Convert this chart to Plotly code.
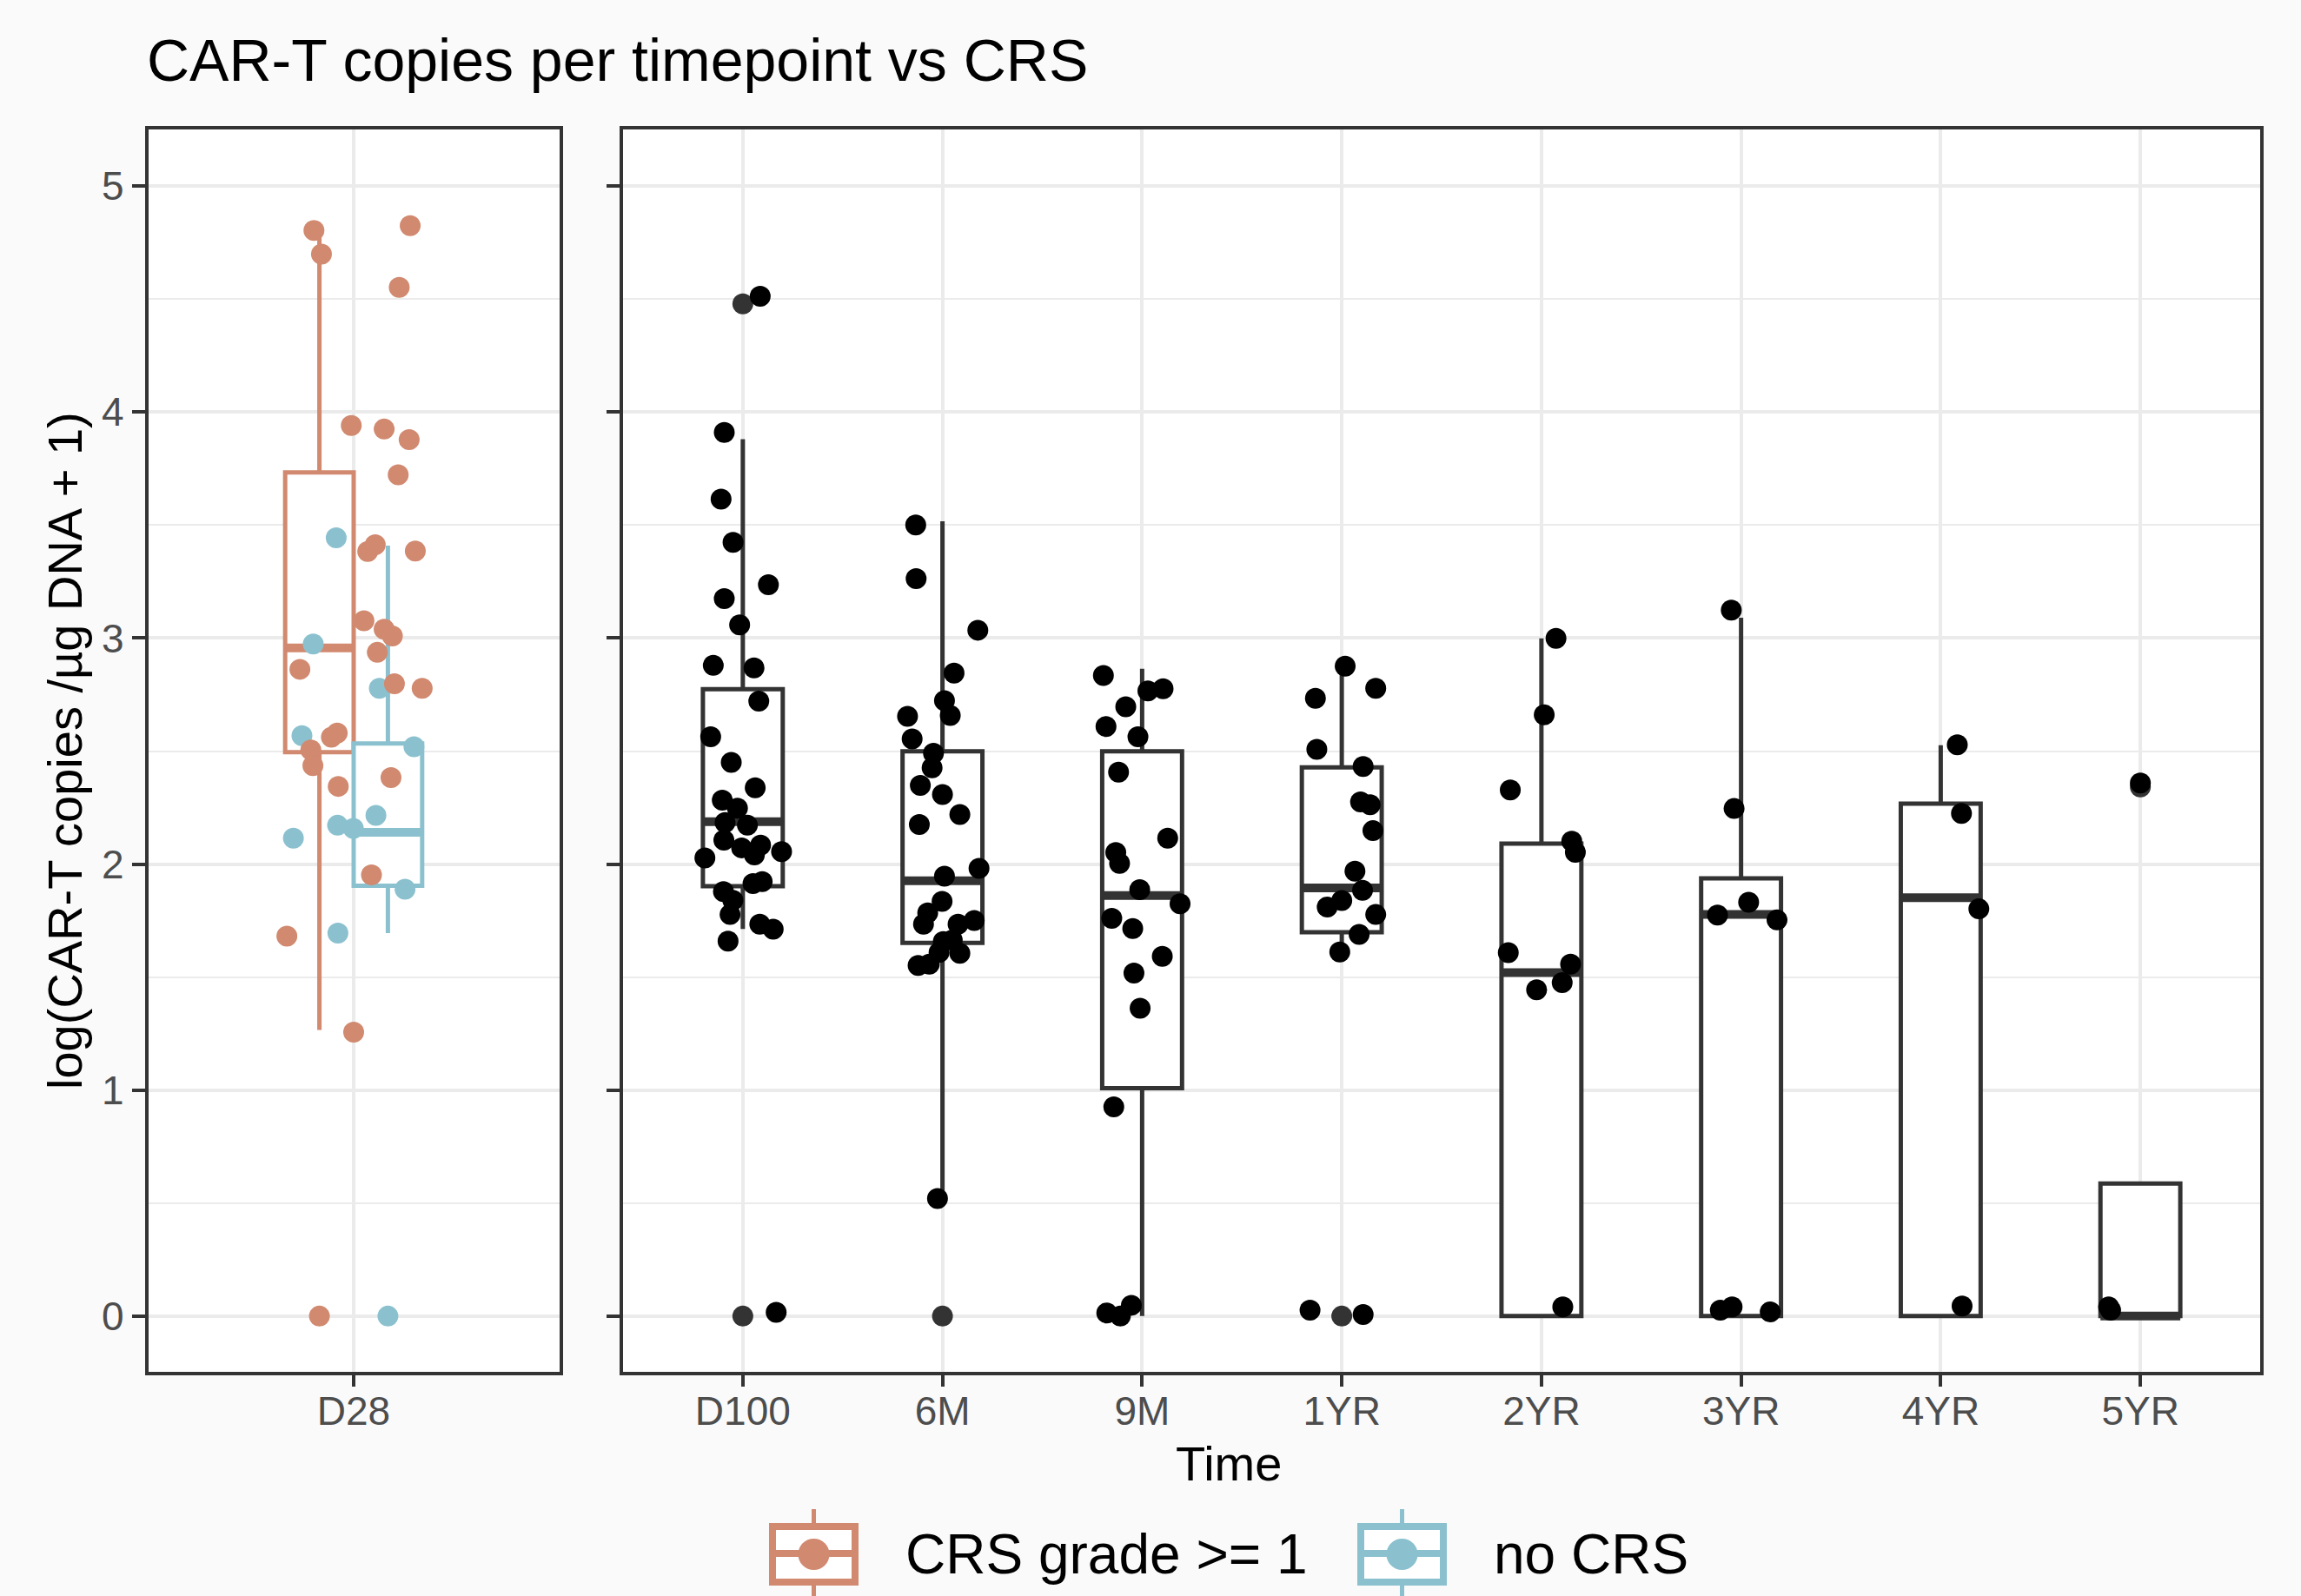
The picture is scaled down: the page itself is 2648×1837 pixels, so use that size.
import numpy as np
import plotly.graph_objects as go

W, H = 2648, 1837

# ---------------- data ----------------
d28_label = ["D28"]
time_labels = ["D100", "6M", "9M", "1YR", "2YR", "3YR", "4YR", "5YR"]
group_names = ["CRS grade >= 1", "no CRS"]

# D28 jittered points (value, horizontal jitter)
crs_y = [4.804, 4.699, 4.825, 4.552, 3.941, 3.925, 3.878, 3.723, 3.383, 3.413, 3.385,
         3.077, 3.039, 3.010, 2.937, 2.862, 2.798, 2.778, 2.580, 2.562, 2.505, 2.436,
         2.344, 2.383, 1.952, 1.681, 1.257]
crs_dx = [-0.116, -0.094, 0.165, 0.133, -0.007, 0.089, 0.162, 0.130, 0.041, 0.063, 0.180,
          0.030, 0.089, 0.113, 0.069, -0.157, 0.119, 0.200, -0.048, -0.065, -0.125, -0.119,
          -0.045, 0.109, 0.052, -0.195, 0.000]
nocrs_y = [3.444, 2.974, 2.568, 2.778, 2.519, 2.216, 2.172, 2.158, 2.115, 1.889, 1.695]
nocrs_dx = [-0.051, -0.118, -0.151, 0.075, 0.176, 0.065, -0.047, -0.001, -0.176, 0.150, -0.046]

# D28 box statistics [CRS, noCRS]
d28_q1 = [2.495, 1.904]
d28_med = [2.957, 2.141]
d28_q3 = [3.733, 2.534]
d28_lo = [1.266, 1.695]
d28_hi = [4.780, 3.409]
d28_out = [0.0, 0.0]

# Later timepoints box statistics
box_q1 = [1.902, 1.652, 1.009, 1.699, 0.000, 0.000, 0.000, 0.000]
box_med = [2.188, 1.926, 1.861, 1.895, 1.520, 1.777, 1.851, 0.000]
box_q3 = [2.774, 2.499, 2.499, 2.428, 2.091, 1.937, 2.268, 0.587]
box_lo = [1.713, 0.520, 0.000, 1.611, 0.000, 0.000, 0.000, 0.000]
box_hi = [3.880, 3.517, 2.864, 2.876, 2.999, 3.090, 2.526, 0.587]

# boxplot outliers (timepoint index, value)
out_t = [0, 0, 1, 3, 7]
out_y = [4.479, 0.000, 0.000, 0.000, 2.342]

# jittered points per timepoint
d100_y = [4.513, 3.910, 3.615, 3.424, 3.236, 3.175, 3.059, 2.880, 2.868, 2.721, 2.564,
          2.450, 2.338, 2.283, 2.247, 2.184, 2.172, 2.106, 2.072, 2.084, 2.027, 2.041,
          2.055, 1.914, 1.923, 1.878, 1.840, 1.777, 1.734, 1.712, 1.659, 0.017]
d100_dx = [0.087, -0.093, -0.109, -0.049, 0.128, -0.093, -0.016, -0.148, 0.056, 0.080, -0.161,
           -0.058, 0.062, -0.103, -0.027, -0.089, 0.023, -0.095, -0.006, 0.089, -0.190, 0.058,
           0.194, 0.051, 0.097, -0.097, -0.050, -0.064, 0.085, 0.152, -0.074, 0.167]
m6_y = [3.501, 3.263, 3.035, 2.845, 2.723, 2.658, 2.654, 2.554, 2.491, 2.426, 2.348, 2.308,
        2.220, 2.175, 1.981, 1.947, 1.835, 1.784, 1.734, 1.734, 1.751, 1.657, 1.664, 1.609,
        1.605, 1.552, 1.557, 0.520]
m6_dx = [-0.134, -0.132, 0.177, 0.058, 0.010, 0.039, -0.175, -0.152, -0.045, -0.052, -0.111, 0.000,
         0.087, -0.116, 0.183, 0.010, -0.002, -0.074, -0.095, 0.078, 0.159, 0.004, 0.049, -0.017,
         0.087, -0.122, -0.066, -0.025]
m9_y = [2.835, 2.776, 2.766, 2.696, 2.609, 2.564, 2.407, 2.115, 2.051, 2.003, 1.887, 1.825,
        1.760, 1.715, 1.592, 1.518, 1.362, 0.926, 0.014, 0.000, 0.048]
m9_dx = [-0.194, 0.105, 0.029, -0.082, -0.181, -0.021, -0.118, 0.128, -0.132, -0.113, -0.012, 0.190,
         -0.152, -0.047, 0.101, -0.041, -0.010, -0.142, -0.177, -0.109, -0.054]
y1_y = [2.876, 2.734, 2.778, 2.508, 2.432, 2.275, 2.263, 2.148, 1.969, 1.884, 1.839, 1.810,
        1.777, 1.689, 1.611, 0.026, 0.007]
y1_dx = [0.017, -0.132, 0.170, -0.125, 0.107, 0.094, 0.142, 0.156, 0.066, 0.104, 0.000, -0.073,
         0.170, 0.087, -0.010, -0.159, 0.107]
y2_y = [2.999, 2.661, 2.328, 2.101, 2.052, 1.608, 1.557, 1.476, 1.444, 0.041]
y2_dx = [0.073, 0.014, -0.156, 0.152, 0.170, -0.166, 0.146, 0.104, -0.024, 0.107]
y3_y = [3.124, 2.246, 1.831, 1.775, 1.753, 0.026, 0.041, 0.019]
y3_dx = [-0.049, -0.035, 0.038, -0.118, 0.180, -0.104, -0.045, 0.146]
y4_y = [2.528, 2.224, 1.802, 0.045]
y4_dx = [0.083, 0.104, 0.191, 0.107]
y5_y = [2.359, 0.041, 0.026]
y5_dx = [0.000, -0.159, -0.149]

later_y = [d100_y, m6_y, m9_y, y1_y, y2_y, y3_y, y4_y, y5_y]
later_dx = [d100_dx, m6_dx, m9_dx, y1_dx, y2_dx, y3_dx, y4_dx, y5_dx]

# ---------------- style ----------------
C_CRS = "#D1896F"
C_NO = "#8BC1CF"
DARK = "#333333"
GRID = "#EBEBEB"
FONT = "Liberation Sans, Arial, sans-serif"
MS = 24
BOXW_L = 0.2
BOXW_R = 0.4
LW = 5
MEDW = 10

fig = go.Figure()

# D28 boxes (dodged)
d28_pos = [-0.1, 0.1]
for i, col in enumerate([C_CRS, C_NO]):
    fig.add_trace(go.Box(
        x=[d28_pos[i]], q1=[d28_q1[i]], median=[d28_med[i]], q3=[d28_q3[i]],
        lowerfence=[d28_lo[i]], upperfence=[d28_hi[i]], orientation="v",
        width=BOXW_L, whiskerwidth=0, fillcolor="white", line=dict(color=col, width=LW),
        boxpoints=False, showlegend=False, hoverinfo="skip", xaxis="x", yaxis="y"))

# later boxes
pos_r = list(range(len(time_labels)))
fig.add_trace(go.Box(
    x=pos_r, q1=box_q1, median=box_med, q3=box_q3, lowerfence=box_lo, upperfence=box_hi,
    orientation="v", width=BOXW_R, whiskerwidth=0, fillcolor="white",
    line=dict(color=DARK, width=LW), boxpoints=False, showlegend=False, hoverinfo="skip",
    xaxis="x2", yaxis="y2"))

# thick median lines
for i, col in enumerate([C_CRS, C_NO]):
    fig.add_trace(go.Scatter(
        x=[d28_pos[i] - BOXW_L / 2, d28_pos[i] + BOXW_L / 2], y=[d28_med[i], d28_med[i]],
        mode="lines", line=dict(color=col, width=MEDW), showlegend=False, hoverinfo="skip",
        xaxis="x", yaxis="y"))
mx, my = [], []
for p, m in zip(pos_r, box_med):
    mx += [p - BOXW_R / 2, p + BOXW_R / 2, None]
    my += [m, m, None]
fig.add_trace(go.Scatter(x=mx, y=my, mode="lines", line=dict(color=DARK, width=MEDW),
                         showlegend=False, hoverinfo="skip", xaxis="x2", yaxis="y2"))

# outliers
for i, col in enumerate([C_CRS, C_NO]):
    fig.add_trace(go.Scatter(x=[d28_pos[i]], y=[d28_out[i]], mode="markers",
                             marker=dict(color=col, size=MS, line=dict(width=0)),
                             showlegend=False, xaxis="x", yaxis="y"))
fig.add_trace(go.Scatter(x=out_t, y=out_y, mode="markers",
                         marker=dict(color=DARK, size=MS, line=dict(width=0)),
                         showlegend=False, xaxis="x2", yaxis="y2"))

# jittered points D28
fig.add_trace(go.Scatter(x=np.array(nocrs_dx), y=nocrs_y, mode="markers", name=group_names[1],
                         marker=dict(color=C_NO, size=MS, line=dict(width=0)),
                         showlegend=False, xaxis="x", yaxis="y"))
fig.add_trace(go.Scatter(x=np.array(crs_dx), y=crs_y, mode="markers", name=group_names[0],
                         marker=dict(color=C_CRS, size=MS, line=dict(width=0)),
                         showlegend=False, xaxis="x", yaxis="y"))

# jittered points later
jx, jy = [], []
for p, ys, dxs in zip(pos_r, later_y, later_dx):
    jx += list(p + np.array(dxs))
    jy += ys
fig.add_trace(go.Scatter(x=jx, y=jy, mode="markers",
                         marker=dict(color="black", size=MS, line=dict(width=0)),
                         showlegend=False, xaxis="x2", yaxis="y2"))

# ---------------- axes ----------------
common_x = dict(showgrid=True, gridcolor=GRID, gridwidth=3.5, zeroline=False,
                showline=True, linecolor=DARK, linewidth=3.5, mirror=True,
                ticks="outside", ticklen=14, tickwidth=3.5, tickcolor=DARK,
                ticklabelstandoff=-12,
                tickfont=dict(family=FONT, size=46, color="#4D4D4D"))
common_y = dict(range=[-0.245, 5.25], tickvals=[0, 1, 2, 3, 4, 5], showgrid=True,
                gridcolor=GRID, gridwidth=3.5, zeroline=False, showline=True,
                linecolor=DARK, linewidth=3.5, mirror=True, ticks="outside", ticklen=15,
                tickwidth=3.5, tickcolor=DARK,
                tickfont=dict(family=FONT, size=46, color="#4D4D4D"),
                minor=dict(tick0=0.5, dtick=1, showgrid=True, gridcolor=GRID, gridwidth=2,
                           ticks=""),
                domain=[1 - 1578.6 / H, 1 - 149.2 / H])

fig.update_layout(
    xaxis=dict(common_x, domain=[170.5 / W, 643.5 / W], range=[-0.6, 0.6], tickvals=[0],
               ticktext=d28_label, anchor="y"),
    xaxis2=dict(common_x, domain=[717 / W, 2601 / W], range=[-0.6, 7.6],
                tickvals=pos_r, ticktext=time_labels, anchor="y2"),
    yaxis=dict(common_y, anchor="x", ticklabelstandoff=0),
    yaxis2=dict(common_y, anchor="x2", showticklabels=False),
    width=W, height=H, autosize=False,
    margin=dict(l=0, r=0, t=0, b=0, pad=0),
    paper_bgcolor="#FAFAFA", plot_bgcolor="white",
    showlegend=False,
    font=dict(family=FONT, color="black"),
)

# ---------------- text ----------------
def px(x):
    return x / W


def py(y):
    return 1 - y / H


fig.add_annotation(text="CAR-T copies per timepoint vs CRS", x=px(167), y=py(69),
                   xref="paper", yref="paper", xanchor="left", yanchor="middle",
                   showarrow=False, font=dict(family=FONT, size=68, color="black"))
fig.add_annotation(text="log(CAR-T copies /µg DNA + 1)", x=px(74), y=py(864),
                   xref="paper", yref="paper", xanchor="center", yanchor="middle",
                   textangle=-90, showarrow=False,
                   font=dict(family=FONT, size=56, color="black"))
fig.add_annotation(text="Time", x=px(1414), y=py(1684), xref="paper", yref="paper",
                   xanchor="center", yanchor="middle", showarrow=False,
                   font=dict(family=FONT, size=56, color="black"))

# ---------------- legend (manual keys) ----------------
key_left = [885, 1562]
text_left = [1040, 1717]
for kl, tl, col, name in zip(key_left, text_left, [C_CRS, C_NO], group_names):
    cx = kl + 51.5
    # whiskers
    fig.add_shape(type="line", x0=px(cx), x1=px(cx), y0=py(1737), y1=py(1757),
                  xref="paper", yref="paper", line=dict(color=col, width=5))
    fig.add_shape(type="line", x0=px(cx), x1=px(cx), y0=py(1821), y1=py(1840),
                  xref="paper", yref="paper", line=dict(color=col, width=5))
    # box
    fig.add_shape(type="rect", x0=px(kl + 4), x1=px(kl + 99), y0=py(1757), y1=py(1821),
                  xref="paper", yref="paper", line=dict(color=col, width=8),
                  fillcolor="white")
    fig.add_shape(type="line", x0=px(kl + 4), x1=px(kl + 99), y0=py(1788), y1=py(1788),
                  xref="paper", yref="paper", line=dict(color=col, width=8))
    fig.add_shape(type="circle", x0=px(cx - 18), x1=px(cx + 18), y0=py(1771), y1=py(1807),
                  xref="paper", yref="paper", line=dict(width=0), fillcolor=col)
    fig.add_annotation(text=name, x=px(tl), y=py(1789), xref="paper", yref="paper",
                       xanchor="left", yanchor="middle", showarrow=False,
                       font=dict(family=FONT, size=64, color="black"))

fig.write_html("out.html", config=dict(displayModeBar=False))
